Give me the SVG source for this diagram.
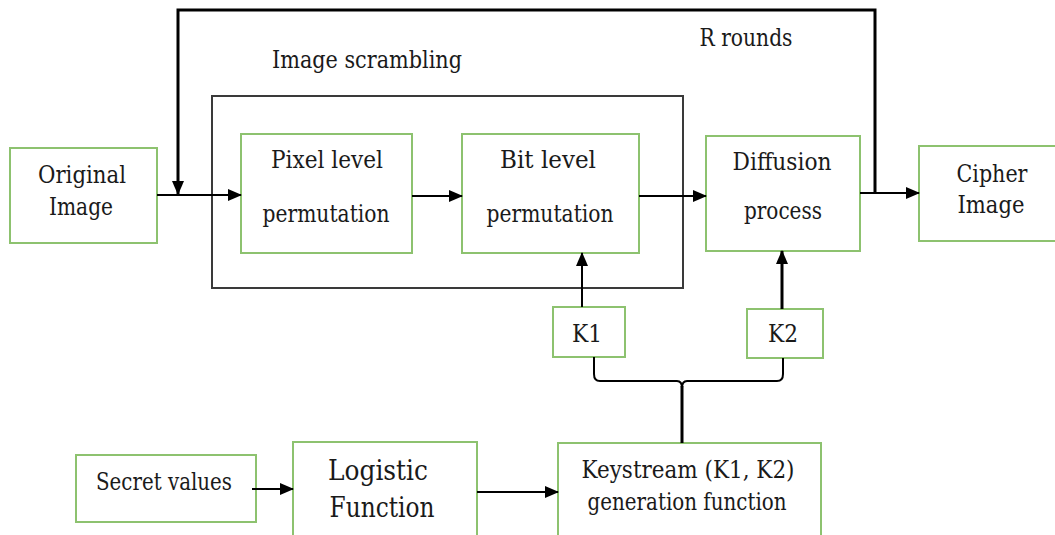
<svg xmlns="http://www.w3.org/2000/svg" width="1055" height="535" viewBox="0 0 1055 535">
<style>
.node{fill:#fff;stroke:#8dc26f;stroke-width:2}
.grp{fill:none;stroke:#3a3a3a;stroke-width:2}
.lbl{font-family:'DejaVu Serif','Liberation Serif','Times New Roman',serif;font-size:24px;fill:#1a1a1a;text-anchor:middle}
.big{font-size:28px}
.c{fill:none;stroke:#000;stroke-width:2}
.t{fill:none;stroke:#000;stroke-width:3}
</style>
<defs>
<marker id="ah" markerUnits="userSpaceOnUse" markerWidth="14" markerHeight="12" refX="13" refY="6" orient="auto">
<path d="M0,0 L14,6 L0,12 Z" fill="#000"/>
</marker>
</defs>
<rect width="1055" height="535" fill="#fff"/>
<g id="scrambling">
<rect class="grp" x="212" y="96" width="471" height="192"/>
<text class="lbl" x="367" y="68" textLength="190" lengthAdjust="spacingAndGlyphs">Image scrambling</text>
</g>
<g id="rounds">
<text class="lbl" x="746" y="46" textLength="93" lengthAdjust="spacingAndGlyphs">R rounds</text>
</g>
<g id="original">
<rect class="node" x="10" y="148" width="147" height="95"/>
<text class="lbl" x="82" y="183" textLength="88" lengthAdjust="spacingAndGlyphs">Original</text>
<text class="lbl" x="81" y="215" textLength="64" lengthAdjust="spacingAndGlyphs">Image</text>
</g>
<g id="pixel">
<rect class="node" x="241" y="134" width="171" height="119"/>
<text class="lbl" x="327" y="168" textLength="112" lengthAdjust="spacingAndGlyphs">Pixel level</text>
<text class="lbl" x="326" y="222" textLength="127" lengthAdjust="spacingAndGlyphs">permutation</text>
</g>
<g id="bit">
<rect class="node" x="462" y="134" width="177" height="119"/>
<text class="lbl" x="548" y="168" textLength="96" lengthAdjust="spacingAndGlyphs">Bit level</text>
<text class="lbl" x="550" y="222" textLength="127" lengthAdjust="spacingAndGlyphs">permutation</text>
</g>
<g id="diffusion">
<rect class="node" x="706" y="136" width="154" height="115"/>
<text class="lbl" x="782" y="170" textLength="99" lengthAdjust="spacingAndGlyphs">Diffusion</text>
<text class="lbl" x="783" y="219" textLength="78" lengthAdjust="spacingAndGlyphs">process</text>
</g>
<g id="cipher">
<rect class="node" x="919" y="146" width="150" height="95"/>
<text class="lbl" x="992" y="182" textLength="71" lengthAdjust="spacingAndGlyphs">Cipher</text>
<text class="lbl" x="991" y="213" textLength="67" lengthAdjust="spacingAndGlyphs">Image</text>
</g>
<g id="k1">
<rect class="node" x="553" y="307" width="72" height="50"/>
<text class="lbl" x="587" y="342" textLength="30" lengthAdjust="spacingAndGlyphs">K1</text>
</g>
<g id="k2">
<rect class="node" x="747" y="309" width="76" height="49"/>
<text class="lbl" x="783" y="342" textLength="30" lengthAdjust="spacingAndGlyphs">K2</text>
</g>
<g id="secret">
<rect class="node" x="76" y="455" width="180" height="67"/>
<text class="lbl" x="164" y="490" textLength="136" lengthAdjust="spacingAndGlyphs">Secret values</text>
</g>
<g id="logistic">
<rect class="node" x="293" y="442" width="184" height="110"/>
<text class="lbl big" x="378" y="480" textLength="100" lengthAdjust="spacingAndGlyphs">Logistic</text>
<text class="lbl big" x="382" y="517" textLength="105" lengthAdjust="spacingAndGlyphs">Function</text>
</g>
<g id="keystream">
<rect class="node" x="558" y="443" width="263" height="110"/>
<text class="lbl" x="688" y="478" textLength="213" lengthAdjust="spacingAndGlyphs">Keystream (K1, K2)</text>
<text class="lbl" x="687" y="510" textLength="199" lengthAdjust="spacingAndGlyphs">generation function</text>
</g>
<g id="connectors">
<line class="c" x1="157" y1="195" x2="241" y2="195" marker-end="url(#ah)"/>
<polyline class="t" points="875,193 875,10 178,10 178,194" marker-end="url(#ah)"/>
<line class="c" x1="412" y1="196" x2="462" y2="196" marker-end="url(#ah)"/>
<line class="c" x1="639" y1="196" x2="706" y2="196" marker-end="url(#ah)"/>
<line class="c" x1="860" y1="193" x2="919" y2="193" marker-end="url(#ah)"/>
<line class="c" x1="582" y1="307" x2="582" y2="253" marker-end="url(#ah)"/>
<line class="t" x1="782" y1="309" x2="782" y2="251" marker-end="url(#ah)"/>
<line class="c" x1="252" y1="489" x2="293" y2="489" marker-end="url(#ah)"/>
<line class="c" x1="477" y1="492" x2="558" y2="492" marker-end="url(#ah)"/>
<path class="c" d="M594,357 L594,374 Q594,381 600,381 L677,381 Q682,381 682,388 Q682,381 687,381 L777,381 Q783,381 783,374 L783,358"/>
<line class="t" x1="682" y1="386" x2="682" y2="443"/>
</g>
</svg>
